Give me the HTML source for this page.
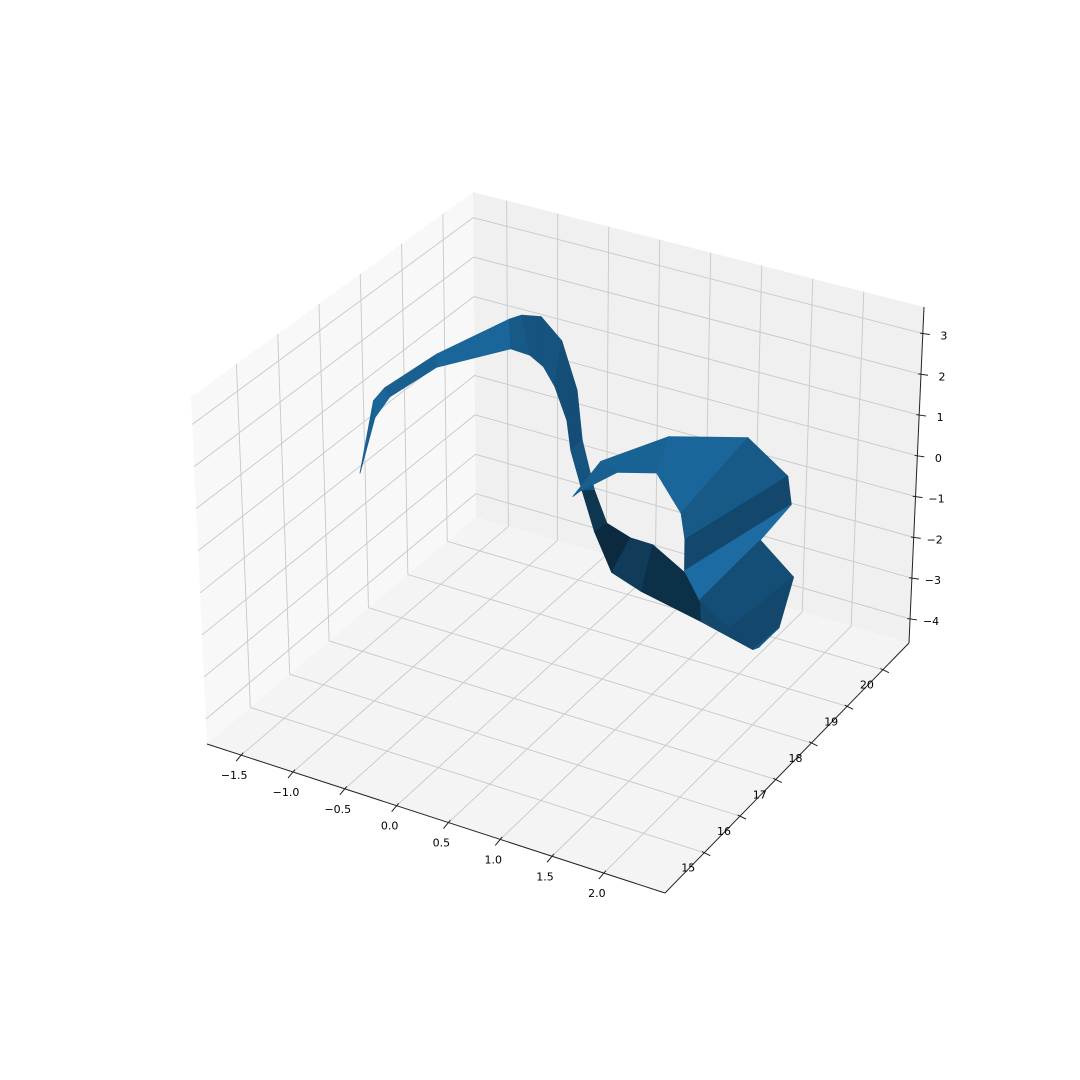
<!DOCTYPE html>
<html><head><meta charset="utf-8"><style>
html,body{margin:0;padding:0;background:#fff;}
svg{display:block;font-family:"DejaVu Sans","Liberation Sans",sans-serif;}
</style></head><body>
<svg id="chart" width="1080" height="1080" viewBox="0 0 1080 1080" xmlns="http://www.w3.org/2000/svg">
<g id="panes"></g>
<g id="grid"></g>
<g id="axes"></g>
<g id="surface"></g>
</svg>
<script>
const xTicks=[-1.5,-1.0,-0.5,0.0,0.5,1.0,1.5,2.0];
const xTickLabels=["−1.5","−1.0","−0.5","0.0","0.5","1.0","1.5","2.0"];
const yTicks=[15,16,17,18,19,20];
const yTickLabels=["15","16","17","18","19","20"];
const zTicks=[-4,-3,-2,-1,0,1,2,3];
const zTickLabels=["−4","−3","−2","−1","0","1","2","3"];
// main ribbon edges (x,y,z)
const mainOuterX=[-1.76,-1.61,-1.50,-0.99,-0.83,-0.71,-0.52,-0.32,-0.17,0.45,0.57,0.69,0.92,1.14,1.60,1.99];
const mainOuterY=[17.7,17.7,17.7,17.7,19.1,19.1,19.1,19.1,19.1,17.6,17.6,17.6,17.6,17.6,17.6,17.6];
const mainOuterZ=[-0.98,0.91,1.30,2.49,2.39,2.57,2.66,2.20,1.09,1.49,0.36,-0.35,-0.54,-0.55,-1.20,-1.65];
const mainInnerX=[-1.76,-1.60,-1.45,-0.99,-0.82,-0.63,-0.50,-0.39,-0.27,0.34,0.45,0.57,0.74,1.03,1.62,2.13];
const mainInnerY=[17.7,17.7,17.7,17.7,19.1,19.1,19.1,19.1,19.1,17.6,17.6,17.6,17.6,17.6,17.6,17.6];
const mainInnerZ=[-0.98,0.50,1.12,2.17,1.66,1.63,1.44,1.03,0.27,1.16,0.26,-0.64,-1.50,-1.75,-2.05,-2.35];
const mainShade=[0.8,0.85,0.8,0.85,0.75,0.7,0.7,0.65,0.65,0.7,0.45,0.35,0.5,0.4,0.6];
// lobe ribbon edges
const lobeOuterX=[0.36,0.63,1.28,2.04,2.43,2.47,2.18,2.51,2.38,2.22];
const lobeOuterY=[17.6,17.6,17.6,17.6,17.6,17.6,17.6,17.6,17.6,17.6];
const lobeOuterZ=[0.06,1.10,2.15,2.65,2.00,1.35,0.30,-0.35,-1.65,-2.15];
const lobeInnerX=[0.43,0.79,1.17,1.41,1.45,1.45,1.60,1.90,2.13,2.19];
const lobeInnerY=[17.6,17.6,17.6,17.6,17.6,17.6,17.6,17.6,17.6,17.6];
const lobeInnerZ=[0.24,0.95,1.20,0.40,-0.20,-0.95,-1.55,-2.00,-2.35,-2.25];
const lobeShade=[0.8,0.82,0.85,0.75,0.6,0.9,0.65,0.6,0.75];

const X0=-1.83,X1=2.59,Y0=13.9,Y1=20.73,Z0=-4.59,Z1=3.65;
const C={c000:[207,744],c100:[665,893],c010:[476,517],c110:[909,643],
 c001:[191,397],c101:[667,535],c011:[473,192],c111:[924,307]};
function lerp(a,b,t){return [a[0]+(b[0]-a[0])*t,a[1]+(b[1]-a[1])*t];}
function P(x,y,z){
 const u=(x-X0)/(X1-X0),v=(y-Y0)/(Y1-Y0),w=(z-Z0)/(Z1-Z0);
 const b0=lerp(lerp(C.c000,C.c100,u),lerp(C.c010,C.c110,u),v);
 const b1=lerp(lerp(C.c001,C.c101,u),lerp(C.c011,C.c111,u),v);
 return lerp(b0,b1,w);
}
const NS="http://www.w3.org/2000/svg";
function mk(tag,attrs,parent){const e=document.createElementNS(NS,tag);for(const k in attrs)e.setAttribute(k,attrs[k]);parent.appendChild(e);return e;}
function pts(a){return a.map(p=>p[0].toFixed(1)+","+p[1].toFixed(1)).join(" ");}
const panes=document.getElementById('panes'),grid=document.getElementById('grid'),axes=document.getElementById('axes'),surf=document.getElementById('surface');

let e;
e=mk('polygon',{points:pts([P(X0,Y0,Z0),P(X0,Y1,Z0),P(X0,Y1,Z1),P(X0,Y0,Z1)]),fill:'#f8f8f8'},panes);


e=mk('polygon',{points:pts([P(X0,Y1,Z0),P(X1,Y1,Z0),P(X1,Y1,Z1),P(X0,Y1,Z1)]),fill:'#f0f0f0'},panes);


e=mk('polygon',{points:pts([P(X0,Y0,Z0),P(X1,Y0,Z0),P(X1,Y1,Z0),P(X0,Y1,Z0)]),fill:'#f4f4f4'},panes);



function gl(a,b,name){const l=mk('line',{x1:a[0],y1:a[1],x2:b[0],y2:b[1],stroke:'#c8c8c8','stroke-width':0.9},grid);
 
 }
xTicks.forEach(x=>{gl(P(x,Y0,Z0),P(x,Y1,Z0),'x-gridline');gl(P(x,Y1,Z0),P(x,Y1,Z1),'x-gridline');});
yTicks.forEach(y=>{gl(P(X0,y,Z0),P(X1,y,Z0),'y-gridline');gl(P(X0,y,Z0),P(X0,y,Z1),'y-gridline');});
zTicks.forEach(z=>{gl(P(X0,Y0,z),P(X0,Y1,z),'z-gridline');gl(P(X0,Y1,z),P(X1,Y1,z),'z-gridline');});

function al(a,b,name){const l=mk('line',{x1:a[0],y1:a[1],x2:b[0],y2:b[1],stroke:'#222','stroke-width':1},axes);
 
 }
al(P(X0,Y0,Z0),P(X1,Y0,Z0),'x-axis-line');
al(P(X1,Y0,Z0),P(X1,Y1,Z0),'y-axis-line');
al(P(X1,Y1,Z0),P(X1,Y1,Z1),'z-axis-line');

function tick(p,d,label,name,off){
 const t=mk('line',{x1:p[0]-d[0]*0.4,y1:p[1]-d[1]*0.4,x2:p[0]+d[0],y2:p[1]+d[1],stroke:'#222','stroke-width':1},axes);
 
 
 const tx=mk('text',{x:p[0]+off[0],y:p[1]+off[1],'font-size':11,'text-anchor':'middle',fill:'#000'},axes);
 tx.textContent=label;
 
 
}
xTicks.forEach((x,i)=>tick(P(x,Y0,Z0),[-5,6],xTickLabels[i],'x',[-7,24]));
yTicks.forEach((y,i)=>tick(P(X1,y,Z0),[6,3],yTickLabels[i],'y',[-16,19]));
zTicks.forEach((z,i)=>tick(P(X1,Y1,z),[7,1],zTickLabels[i],'z',[21,6]));

function shadeColor(s){const r=Math.round(31*s),g=Math.round(119*s),b=Math.round(180*s);return `rgb(${r},${g},${b})`;}
function strip(ox,oy,oz,ix,iy,iz,sh,name){
 for(let i=0;i<ox.length-1;i++){
  const q=[P(ox[i],oy[i],oz[i]),P(ox[i+1],oy[i+1],oz[i+1]),P(ix[i+1],iy[i+1],iz[i+1]),P(ix[i],iy[i],iz[i])];
  const c=shadeColor(sh[i]);
  const pg=mk('polygon',{points:pts(q),fill:c,stroke:c,'stroke-width':0.8,'stroke-linejoin':'round'},surf);
  
  
 }
}
strip(mainOuterX,mainOuterY,mainOuterZ,mainInnerX,mainInnerY,mainInnerZ,mainShade,'main-ribbon');
strip(lobeOuterX,lobeOuterY,lobeOuterZ,lobeInnerX,lobeInnerY,lobeInnerZ,lobeShade,'lobe-ribbon');
</script>
</body></html>
